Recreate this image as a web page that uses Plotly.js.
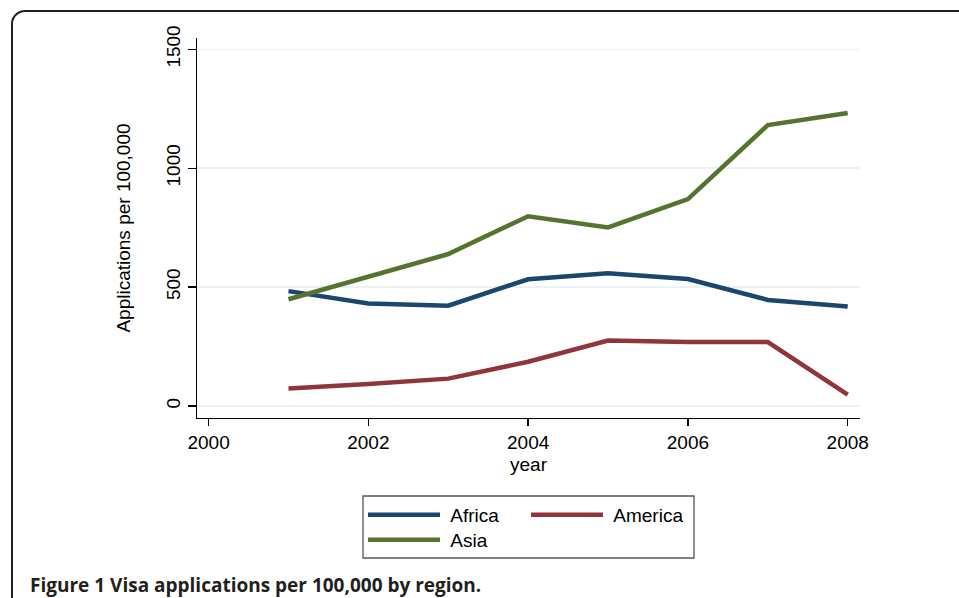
<!DOCTYPE html>
<html>
<head>
<meta charset="utf-8">
<script src="https://cdn.plot.ly/plotly-3.0.1.min.js"></script>
<style>
  html, body { margin:0; padding:0; background:#ffffff; overflow:hidden; }
  #frame { position:absolute; left:11px; top:10px; width:1000px; height:700px;
           border:2px solid #231f20; border-radius:14px; box-sizing:border-box; }
  #chart { position:absolute; left:0; top:0; width:959px; height:598px; }
</style>
</head>
<body>
<div id="frame"></div>
<div id="chart"></div>
<script>
// ---- data ----
var years   = [2001, 2002, 2003, 2004, 2005, 2006, 2007, 2008];
var africa  = [483, 431, 422, 533, 558, 534, 446, 418];
var america = [74, 92, 115, 186, 275, 269, 269, 48];
var asia    = [449, 543, 639, 798, 751, 870, 1181, 1232];
var seriesNames = ["Africa", "America", "Asia"];
var xTicks  = [2000, 2002, 2004, 2006, 2008];
var yTicks  = [0, 500, 1000, 1500];
var captionText = "Figure 1 Visa applications per 100,000 by region.";

var FONT = "Liberation Sans, Arial, Helvetica, sans-serif";
var C_AFR = "#1a476f", C_AME = "#90353b", C_ASI = "#55752f";
var NB = "\u00a0";

var traces = [
  {x: years, y: africa,  name: NB + seriesNames[0], type: "scatter", mode: "lines",
   line: {color: C_AFR, width: 4.5}, legend: "legend"},
  {x: years, y: america, name: NB + seriesNames[1], type: "scatter", mode: "lines",
   line: {color: C_AME, width: 4.5}, legend: "legend2"},
  {x: years, y: asia,    name: NB + seriesNames[2], type: "scatter", mode: "lines",
   line: {color: C_ASI, width: 4.5}, legend: "legend3"}
];

// plot area in px: x 197..860, y 38..418
var L = 197, R = 860, T = 38, B = 418, W = 959, H = 598;
function px(x) { return (x - L) / (R - L); }
function py(y) { return (B - y) / (B - T); }

function legendAt(xp, yp) {
  return {
    x: px(xp), y: py(yp), xanchor: "left", yanchor: "top",
    orientation: "v", bgcolor: "rgba(0,0,0,0)", borderwidth: 0,
    itemwidth: 72,
    font: {family: FONT, size: 19, color: "#000"}
  };
}

var layout = {
  width: W, height: H,
  margin: {l: L, r: W - R, t: T, b: H - B, pad: 0},
  paper_bgcolor: "rgba(0,0,0,0)",
  plot_bgcolor: "rgba(0,0,0,0)",
  font: {family: FONT, size: 19, color: "#000"},
  showlegend: true,
  xaxis: {
    range: [1999.855, 2008.154],
    tickvals: xTicks, ticktext: xTicks.map(String),
    ticks: "outside", ticklen: 7, tickwidth: 1.3, tickcolor: "#000",
    showline: true, linecolor: "#000", linewidth: 1.3,
    showgrid: false, zeroline: false,
    tickfont: {family: FONT, size: 19, color: "#000"},
    title: {text: "year", font: {family: FONT, size: 19, color: "#000"}, standoff: 5},
    automargin: true
  },
  yaxis: {
    range: [-50.5, 1547.5],
    tickvals: yTicks, ticktext: yTicks.map(String),
    tickangle: -90,
    ticks: "outside", ticklen: 8, tickwidth: 1.3, tickcolor: "#000",
    showline: true, linecolor: "#000", linewidth: 1.3,
    showgrid: true, gridcolor: "#eaf2f3", gridwidth: 1.5,
    zeroline: false,
    tickfont: {family: FONT, size: 19, color: "#000"},
    title: {text: "Applications per 100,000", font: {family: FONT, size: 19, color: "#000"}, standoff: 27},
    automargin: true
  },
  legend: legendAt(363, 496),
  legend2: legendAt(526, 496),
  legend3: legendAt(363, 521),
  shapes: [
    {type: "rect", xref: "paper", yref: "paper",
     x0: px(363), x1: px(694), y0: py(496), y1: py(558),
     line: {color: "#555", width: 1.3}, fillcolor: "rgba(0,0,0,0)", layer: "below"}
  ],
  annotations: [
    {text: "<b>" + captionText + "</b>", xref: "paper", yref: "paper",
     x: px(28), y: py(585), xanchor: "left", yanchor: "middle", showarrow: false,
     font: {family: "Open Sans, Noto Sans, sans-serif", size: 19, color: "#231f20"}}
  ]
};

Plotly.newPlot("chart", traces, layout, {displayModeBar: false, staticPlot: true});
</script>
</body>
</html>
